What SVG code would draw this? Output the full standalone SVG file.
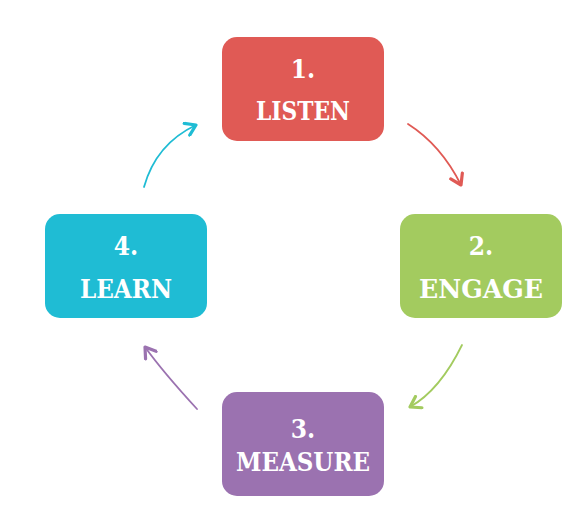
<svg xmlns="http://www.w3.org/2000/svg" width="585" height="528" viewBox="0 0 585 528">
<defs>
<style>
.box{stroke:none}
.t{font-family:"DejaVu Serif Condensed","DejaVu Serif",serif;font-weight:bold;font-stretch:condensed;font-size:26px;fill:#fff;text-anchor:middle}
.c{fill:none;stroke-width:1.8;stroke-linecap:round}
</style>
<marker id="mr" viewBox="-12 -8 14 16" markerWidth="14" markerHeight="16" refX="0" refY="0" orient="auto" markerUnits="userSpaceOnUse"><path d="M-10,-6.5 L0,0 L-10,6.5" fill="none" stroke="#E05A55" stroke-width="3.2" stroke-linejoin="round" stroke-linecap="round"/></marker>
<marker id="mg" viewBox="-12 -8 14 16" markerWidth="14" markerHeight="16" refX="0" refY="0" orient="auto" markerUnits="userSpaceOnUse"><path d="M-10,-6.5 L0,0 L-10,6.5" fill="none" stroke="#A3CB5F" stroke-width="3.2" stroke-linejoin="round" stroke-linecap="round"/></marker>
<marker id="mp" viewBox="-12 -8 14 16" markerWidth="14" markerHeight="16" refX="0" refY="0" orient="auto" markerUnits="userSpaceOnUse"><path d="M-10,-6.5 L0,0 L-10,6.5" fill="none" stroke="#9B72B0" stroke-width="3.2" stroke-linejoin="round" stroke-linecap="round"/></marker>
<marker id="mc" viewBox="-12 -8 14 16" markerWidth="14" markerHeight="16" refX="0" refY="0" orient="auto" markerUnits="userSpaceOnUse"><path d="M-10,-6.5 L0,0 L-10,6.5" fill="none" stroke="#1FBCD4" stroke-width="3.2" stroke-linejoin="round" stroke-linecap="round"/></marker>
</defs>
<rect width="585" height="528" fill="#fff"/>
<g id="connectors">
<path class="c" d="M408,124 Q441,145 461,185" stroke="#E05A55" marker-end="url(#mr)"/>
<path class="c" d="M462,345 Q440,390 410,407" stroke="#A3CB5F" marker-end="url(#mg)"/>
<path class="c" d="M197,409 Q163,372 145,347" stroke="#9B72B0" marker-end="url(#mp)"/>
<path class="c" d="M144,187 Q156,144 196,125" stroke="#1FBCD4" marker-end="url(#mc)"/>
</g>
<g id="n1">
<rect class="box" x="222" y="37" width="162" height="104" rx="15" fill="#E05A55"/>
<text class="t" x="303" y="78">1.</text>
<text class="t" x="303" y="120" textLength="94" lengthAdjust="spacingAndGlyphs">LISTEN</text>
</g>
<g id="n2">
<rect class="box" x="400" y="214" width="162" height="104" rx="15" fill="#A3CB5F"/>
<text class="t" x="481" y="255">2.</text>
<text class="t" x="481" y="298" textLength="124" lengthAdjust="spacingAndGlyphs">ENGAGE</text>
</g>
<g id="n3">
<rect class="box" x="222" y="392" width="162" height="104" rx="15" fill="#9B72B0"/>
<text class="t" x="303" y="438">3.</text>
<text class="t" x="303" y="471" textLength="134" lengthAdjust="spacingAndGlyphs">MEASURE</text>
</g>
<g id="n4">
<rect class="box" x="45" y="214" width="162" height="104" rx="15" fill="#1FBCD4"/>
<text class="t" x="126" y="255">4.</text>
<text class="t" x="126" y="298" textLength="92" lengthAdjust="spacingAndGlyphs">LEARN</text>
</g>
</svg>
